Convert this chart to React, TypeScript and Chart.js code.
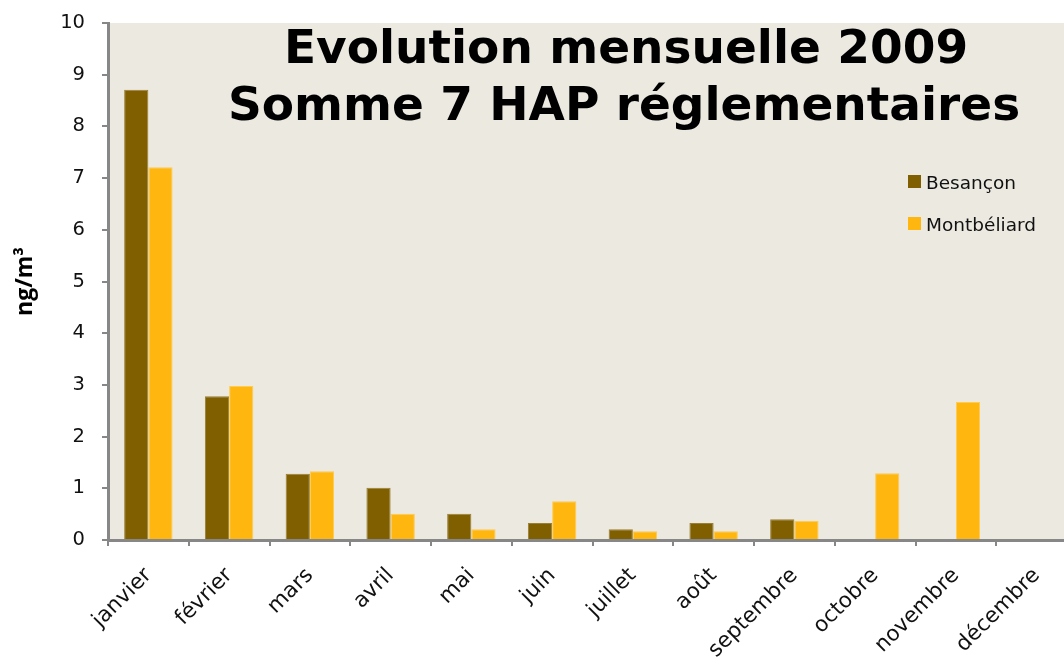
import React, { useEffect, useRef } from "react";
import { Chart, registerables } from "chart.js";

Chart.register(...registerables);

const months = ["janvier", "février", "mars", "avril", "mai", "juin", "juillet", "août", "septembre", "octobre", "novembre", "décembre"];
const besancon: (number | null)[] = [8.71, 2.78, 1.28, 1.01, 0.51, 0.33, 0.21, 0.33, 0.40, null, null, null];
const montbeliard: (number | null)[] = [7.21, 2.98, 1.33, 0.51, 0.21, 0.75, 0.17, 0.17, 0.37, 1.29, 2.67, null];
const titleLines = ["Evolution mensuelle 2009", "Somme 7 HAP réglementaires"];
const yTitle = "ng/m³";
const yMin = 0;
const yMax = 10;
const yStep = 1;

const AXIS = "#878787";
const PLOT_BG = "#ECE9E1";

const bgPlugin = {
  id: "plotBg",
  beforeDraw(chart: any) {
    const { ctx, chartArea } = chart;
    ctx.save();
    ctx.fillStyle = PLOT_BG;
    ctx.fillRect(chartArea.left, chartArea.top, chartArea.right - chartArea.left, chartArea.bottom - chartArea.top);
    ctx.restore();
  },
};

const titlePlugin = {
  id: "innerTitle",
  afterDraw(chart: any) {
    const { ctx } = chart;
    ctx.save();
    ctx.fillStyle = "#000";
    ctx.font = "bold 47px 'DejaVu Sans'";
    ctx.textAlign = "center";
    ctx.textBaseline = "alphabetic";
    ctx.fillText(titleLines[0], 626, 63);
    ctx.fillText(titleLines[1], 624, 120);
    ctx.restore();
  },
};

const legendPlugin = {
  id: "innerLegend",
  afterDraw(chart: any) {
    const { ctx } = chart;
    ctx.save();
    ctx.font = "18.5px 'DejaVu Sans'";
    ctx.textBaseline = "alphabetic";
    ctx.textAlign = "left";
    chart.data.datasets.forEach((ds: any, i: number) => {
      const y = 175 + i * 42;
      ctx.fillStyle = ds.backgroundColor;
      ctx.fillRect(908, y, 13, 13);
      ctx.fillStyle = "#111";
      ctx.fillText(ds.label, 926, y + 14);
    });
    ctx.restore();
  },
};

export default function App() {
  const ref = useRef<HTMLCanvasElement | null>(null);

  useEffect(() => {
    if (!ref.current) return;
    const chart = new Chart(ref.current, {
      type: "bar",
      data: {
        labels: months,
        datasets: [
          {
            label: "Besançon",
            data: besancon,
            backgroundColor: "#7F5F00",
            borderColor: "#9A7F33",
            borderWidth: 1,
            categoryPercentage: 0.6,
            barPercentage: 1.0,
          },
          {
            label: "Montbéliard",
            data: montbeliard,
            backgroundColor: "#FFB70F",
            borderColor: "#FFCB50",
            borderWidth: 1,
            categoryPercentage: 0.6,
            barPercentage: 1.0,
          },
        ],
      },
      options: {
        responsive: false,
        animation: false,
        devicePixelRatio: 1,
        layout: { padding: { left: 0, right: 0, top: 23, bottom: 0 } },
        plugins: {
          legend: { display: false },
          title: { display: false },
          tooltip: { enabled: false },
        },
        scales: {
          x: {
            offset: true,
            grid: {
              offset: true,
              drawOnChartArea: false,
              drawTicks: true,
              tickLength: 6,
              color: AXIS,
              lineWidth: 2,
            },
            border: { display: true, color: AXIS, width: 3 },
            ticks: {
              color: "#111",
              font: { family: "'DejaVu Sans'", size: 21.5 },
              minRotation: 45,
              maxRotation: 45,
              autoSkip: false,
              padding: 17,
            },
            afterFit(scale: any) {
              scale.height = 120;
            },
          },
          y: {
            min: yMin,
            max: yMax,
            grid: {
              drawOnChartArea: false,
              drawTicks: true,
              tickLength: 6,
              color: AXIS,
              lineWidth: 2,
            },
            border: { display: true, color: AXIS, width: 3 },
            ticks: {
              stepSize: yStep,
              color: "#111",
              font: { family: "'DejaVu Sans'", size: 19.5 },
              padding: 17,
            },
            title: {
              display: true,
              text: yTitle,
              color: "#000",
              font: { family: "'Open Sans'", size: 23, weight: "bold" },
              padding: { top: 12, bottom: 0 },
            },
            afterFit(scale: any) {
              scale.width = 108;
              scale.paddingTop = 10;
              scale.paddingBottom = 10;
            },
          },
        },
      },
      plugins: [bgPlugin, titlePlugin, legendPlugin],
    } as any);
    return () => chart.destroy();
  }, []);

  return (
    <div style={{ position: "fixed", left: 0, top: 0, width: 1077, height: 660, background: "#fff" }}>
      <canvas ref={ref} width={1077} height={660} style={{ display: "block" }} />
    </div>
  );
}
